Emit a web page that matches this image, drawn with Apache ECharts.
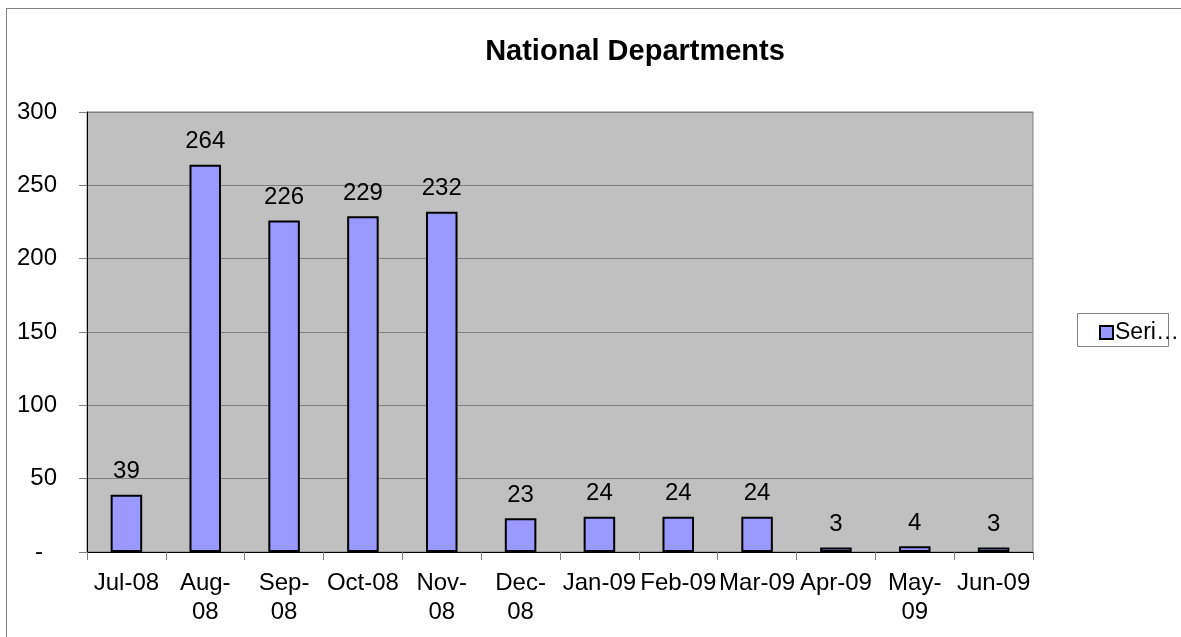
<!DOCTYPE html>
<html>
<head>
<meta charset="utf-8">
<script src="https://cdn.jsdelivr.net/npm/echarts@6/dist/echarts.min.js"></script>
<style>
  html, body { margin: 0; padding: 0; background: #fff; }
  #frame { position: absolute; left: 6px; top: 8px; width: 1175px; height: 629px;
           border-top: 1px solid #808080; border-left: 1px solid #808080; box-sizing: border-box; }
  #chart { position: absolute; left: 0; top: 0; width: 1181px; height: 637px; }
</style>
</head>
<body>
<div id="frame"></div>
<div id="chart"></div>
<script>
// Monthly counts for national departments, July 2008 to June 2009
const months = ['Jul-08', 'Aug-08', 'Sep-08', 'Oct-08', 'Nov-08', 'Dec-08',
                'Jan-09', 'Feb-09', 'Mar-09', 'Apr-09', 'May-09', 'Jun-09'];
const monthLabels = ['Jul-08', 'Aug-\n08', 'Sep-\n08', 'Oct-08', 'Nov-\n08', 'Dec-\n08',
                     'Jan-09', 'Feb-09', 'Mar-09', 'Apr-09', 'May-\n09', 'Jun-09'];
const seriesName = 'Series1';
const counts = [39, 264, 226, 229, 232, 23, 24, 24, 24, 3, 4, 3];
const yMin = 0, yMax = 300, yStep = 50;

const chart = echarts.init(document.getElementById('chart'), null, { renderer: 'canvas' });
const font = 'Liberation Sans, Arial, sans-serif';

chart.setOption({
  animation: false,
  textStyle: { fontFamily: font },
  title: {
    text: 'National Departments',
    left: 630, top: 32, textAlign: 'center',
    textStyle: { fontFamily: font, fontSize: 29, fontWeight: 'bold', color: '#000' }
  },
  legend: {
    data: [seriesName],
    left: 1099, top: 321,
    icon: 'rect', itemWidth: 13, itemHeight: 13, itemGap: 0,
    padding: 0,
    formatter: name => name.slice(0, 4) + '\u2026',
    textStyle: { fontFamily: font, fontSize: 23, color: '#000', padding: [0, 0, 0, -3] }
  },
  graphic: [{
    type: 'rect', left: 1077, top: 313, z: 1,
    shape: { width: 91, height: 33 },
    style: { fill: '#fff', stroke: '#808080', lineWidth: 1 }
  }],
  grid: {
    left: 87, right: 148, top: 112, bottom: 85,
    show: true, backgroundColor: '#C0C0C0', borderColor: '#808080', borderWidth: 1
  },
  xAxis: {
    type: 'category',
    data: months,
    axisLine: { lineStyle: { color: '#000', width: 1 } },
    axisTick: { show: true, length: 8, lineStyle: { color: '#808080' } },
    axisLabel: {
      interval: 0, margin: 17, fontSize: 24, lineHeight: 29, color: '#000', fontFamily: font,
      formatter: (v, i) => monthLabels[i]
    }
  },
  yAxis: {
    type: 'value', min: yMin, max: yMax, interval: yStep,
    axisLine: { show: true, lineStyle: { color: '#000', width: 1 } },
    axisTick: { show: true, length: 8, lineStyle: { color: '#808080' } },
    splitLine: { lineStyle: { color: '#808080', width: 1 } },
    axisLabel: {
      margin: 30, fontSize: 24, color: '#000', fontFamily: font,
      formatter: v => v === 0 ? '{z|-}' : String(v),
      rich: { z: { fontSize: 24, color: '#000', fontFamily: font, padding: [0, 14, 0, 0] } }
    }
  },
  series: [{
    name: seriesName,
    type: 'bar',
    data: counts,
    barWidth: '40%',
    itemStyle: { color: '#9999FF', borderColor: '#000', borderWidth: 2 },
    label: {
      show: true, position: 'top', distance: 11,
      fontSize: 24, color: '#000', fontFamily: font
    }
  }]
});
</script>
</body>
</html>
